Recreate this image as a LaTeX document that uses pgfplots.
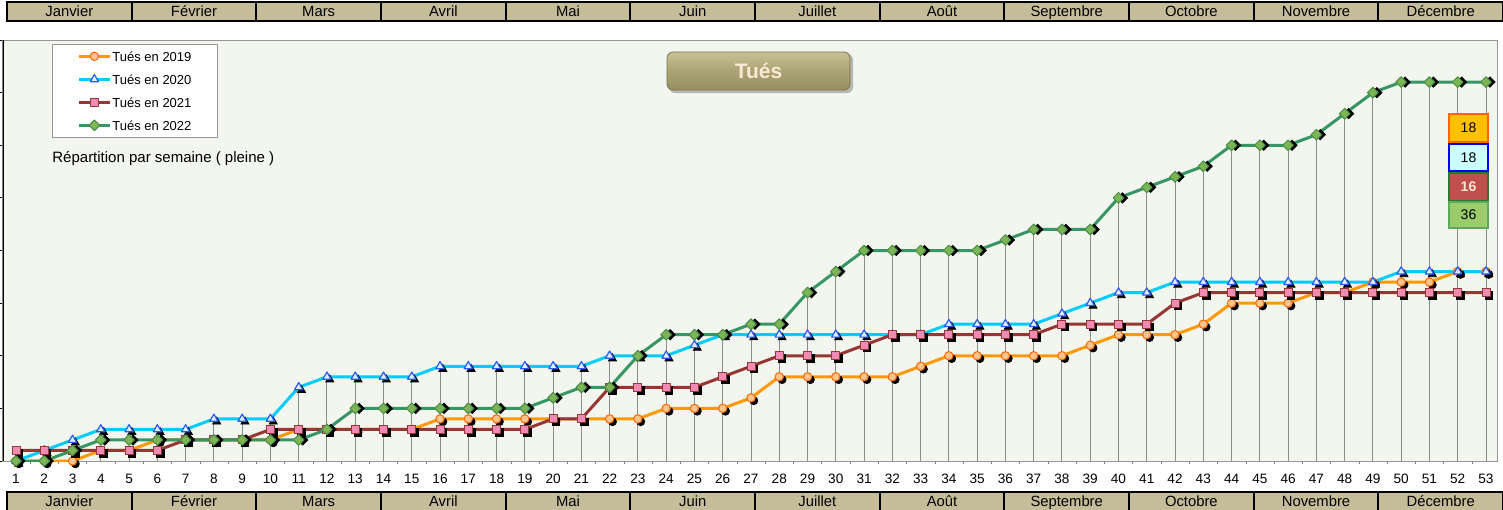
\documentclass[border=0pt]{standalone}
\usepackage{pgfplots}
\pgfplotsset{compat=1.18}
\usepackage{pgfplotstable}
\usepackage{fontspec}
\setmainfont{Liberation Sans}

\definecolor{plotbg}{RGB}{243,246,238}
\definecolor{framegray}{RGB}{150,150,150}
\definecolor{dropgray}{RGB}{140,140,140}
\definecolor{band}{RGB}{197,189,154}
\definecolor{c19}{RGB}{255,153,0}
\definecolor{c19fill}{RGB}{255,196,140}
\definecolor{c19edge}{RGB}{255,102,0}
\definecolor{c20}{RGB}{0,204,255}
\definecolor{c20fill}{RGB}{225,240,255}
\definecolor{c20edge}{RGB}{40,90,255}
\definecolor{c21}{RGB}{150,55,53}
\definecolor{c21fill}{RGB}{240,140,180}
\definecolor{c22}{RGB}{55,150,100}
\definecolor{c22fill}{RGB}{125,180,85}
\definecolor{c22edge}{RGB}{70,140,70}
\definecolor{titletop}{RGB}{200,193,150}
\definecolor{titlemid}{RGB}{170,163,115}
\definecolor{titlebot}{RGB}{150,143,98}
\definecolor{titletext}{RGB}{250,232,212}

% cumul des tués par semaine
\pgfplotstableread{
semaine t2019 t2020 t2021 t2022
1  0  0  1  0
2  0  1  1  0
3  0  2  1  1
4  1  3  1  2
5  1  3  1  2
6  2  3  1  2
7  2  3  2  2
8  2  4  2  2
9  2  4  2  2
10 2  4  3  2
11 3  7  3  2
12 3  8  3  3
13 3  8  3  5
14 3  8  3  5
15 3  8  3  5
16 4  9  3  5
17 4  9  3  5
18 4  9  3  5
19 4  9  3  5
20 4  9  4  6
21 4  9  4  7
22 4  10 7  7
23 4  10 7  10
24 5  10 7  12
25 5  11 7  12
26 5  12 8  12
27 6  12 9  13
28 8  12 10 13
29 8  12 10 16
30 8  12 10 18
31 8  12 11 20
32 8  12 12 20
33 9  12 12 20
34 10 13 12 20
35 10 13 12 20
36 10 13 12 21
37 10 13 12 22
38 10 14 13 22
39 11 15 13 22
40 12 16 13 25
41 12 16 13 26
42 12 17 15 27
43 13 17 16 28
44 15 17 16 30
45 15 17 16 30
46 15 17 16 30
47 16 17 16 31
48 16 17 16 33
49 17 17 16 35
50 17 18 16 36
51 17 18 16 36
52 18 18 16 36
53 18 18 16 36
}\data

\begin{document}
\begin{tikzpicture}
\path[use as bounding box] (0,0) rectangle (751.5pt,-254.5pt);

\begin{axis}[
  at={(1.5pt,-230.5pt)}, anchor=south west,
  scale only axis, width=747pt, height=210.5pt,
  xmin=0.54, xmax=53.39, ymin=0, ymax=40,
  axis background/.style={fill=plotbg},
  axis line style={draw=framegray, line width=0.5pt},
  xtick={1,...,53},
  minor xtick={1.5,2.5,...,52.5},
  ytick={0,5,...,40}, yticklabels={},
  tick align=outside, xtick pos=bottom, ytick pos=left,
  major tick length=1.5pt, minor tick length=1.5pt,
  major x tick style={draw=none},
  minor x tick style={draw=gray},
  major y tick style={black, line width=0.5pt},
  /pgf/number format/assume math mode=true,
  ticklabel style={font=\fontsize{6.8}{8}\selectfont},
  xticklabel style={yshift=-1.5pt},
  legend cell align=left,
  legend image code/.code={\draw[mark repeat=2,mark phase=2,#1] plot coordinates {(0pt,0pt) (7.75pt,0pt) (15.5pt,0pt)};},
  legend style={at={(0.0328,0.9905)}, anchor=north west, fill=white, draw=framegray,
    inner xsep=12.5pt, inner ysep=3.1pt, row sep=5.8pt,
    font=\fontsize{6.5}{7.5}\selectfont,
    nodes={inner sep=0.5pt, text height=4.7pt, text depth=0pt}},
]
% lignes de projection
\addplot[forget plot, ycomb, draw=dropgray, line width=0.5pt] table[x=semaine,y=t2019]{\data};
\addplot[forget plot, ycomb, draw=dropgray, line width=0.5pt] table[x=semaine,y=t2020]{\data};
\addplot[forget plot, ycomb, draw=dropgray, line width=0.5pt] table[x=semaine,y=t2021]{\data};
\addplot[forget plot, ycomb, draw=dropgray, line width=0.5pt] table[x=semaine,y=t2022]{\data};

% 2019
\addplot[forget plot, only marks, mark=*, mark size=2pt, mark options={fill=black, draw=black, xshift=1.4pt, yshift=-1.4pt}] table[x=semaine,y=t2019]{\data};
\addplot[c19, line width=1.5pt, line join=round, mark=*, mark size=2.1pt, mark options={fill=c19fill, draw=c19edge, line width=0.5pt}] table[x=semaine,y=t2019]{\data};
\addlegendentry{Tués en 2019}
% 2020
\addplot[forget plot, only marks, mark=triangle*, mark size=2.3pt, mark options={fill=black, draw=black, xshift=1.4pt, yshift=-1.4pt}] table[x=semaine,y=t2020]{\data};
\addplot[c20, line width=1.5pt, line join=round, mark=triangle*, mark size=2.4pt, mark options={fill=c20fill, draw=c20edge, line width=0.6pt}] table[x=semaine,y=t2020]{\data};
\addlegendentry{Tués en 2020}
% 2021
\addplot[forget plot, only marks, mark=square*, mark size=1.9pt, mark options={fill=black, draw=black, xshift=1.4pt, yshift=-1.4pt}] table[x=semaine,y=t2021]{\data};
\addplot[c21, line width=1.5pt, line join=round, mark=square*, mark size=2pt, mark options={fill=c21fill, draw=c21, line width=0.5pt}] table[x=semaine,y=t2021]{\data};
\addlegendentry{Tués en 2021}
% 2022
\addplot[forget plot, only marks, mark=square*, mark size=1.8pt, mark options={rotate=45, fill=black, draw=black, xshift=1.4pt, yshift=-1.4pt}] table[x=semaine,y=t2022]{\data};
\addplot[c22, line width=1.5pt, line join=round, mark=square*, mark size=1.9pt, mark options={rotate=45, fill=c22fill, draw=c22edge, line width=0.5pt}] table[x=semaine,y=t2022]{\data};
\addlegendentry{Tués en 2022}

\draw[black, line width=0.8pt] (rel axis cs:0,0) -- (rel axis cs:0,1);
\end{axis}

% décor, coordonnées en pixels de l'image
\begin{scope}[x=0.5pt, y=-0.5pt]
  \foreach \m [count=\i from 0] in {Janvier,Février,Mars,Avril,Mai,Juin,Juillet,Août,Septembre,Octobre,Novembre,Décembre}{
    \pgfmathsetmacro{\xa}{7+124.67*\i}
    \pgfmathsetmacro{\xb}{\xa+124.67}
    \draw[fill=band, line width=1pt] (\xa,2) rectangle (\xb,21);
    \node[font=\fontsize{7.4}{9}\selectfont, text height=5.4pt, text depth=0pt, inner sep=0pt] at ({(\xa+\xb)/2},11.5) {\m};
    \draw[fill=band, line width=1pt] (\xa,492) rectangle (\xb,512);
    \node[font=\fontsize{7.4}{9}\selectfont, text height=5.4pt, text depth=0pt, inner sep=0pt] at ({(\xa+\xb)/2},501.5) {\m};
  }

  \node[anchor=west, font=\fontsize{7.5}{9}\selectfont, inner sep=0pt] at (52,159) {Répartition par semaine ( pleine )};

  % bouton du titre
  \fill[black, opacity=0.25, rounded corners=3pt] (669,54) rectangle (853,93);
  \shade[rounded corners=3pt, top color=titletop, bottom color=titlebot, middle color=titlemid, draw=titlebot!80!black, line width=0.4pt] (667,52) rectangle (850,90);
  \node[font=\bfseries\fontsize{10.5}{12}\selectfont, text=titletext] at (758.5,71) {Tués};

  % totaux
  \draw[fill={rgb,255:red,255;green,192;blue,0}, draw={rgb,255:red,255;green,102;blue,0}, line width=0.6pt] (1449,114) rectangle (1488,142);
  \node[font=\fontsize{7}{8}\selectfont] at (1468.5,128) {18};
  \draw[fill={rgb,255:red,204;green,255;blue,255}, draw={rgb,255:red,0;green,0;blue,255}, line width=0.8pt] (1449,144) rectangle (1488,171);
  \node[font=\fontsize{7}{8}\selectfont] at (1468.5,157.5) {18};
  \draw[fill={rgb,255:red,192;green,80;blue,77}, draw={rgb,255:red,40;green,120;blue,50}, line width=0.8pt] (1449,173) rectangle (1488,201);
  \node[font=\bfseries\fontsize{7}{8}\selectfont, text=titletext] at (1468.5,187) {16};
  \draw[fill={rgb,255:red,155;green,203;blue,107}, draw={rgb,255:red,90;green,170;blue,90}, line width=0.6pt] (1449,202) rectangle (1488,228);
  \node[font=\fontsize{7}{8}\selectfont] at (1468.5,215) {36};
\end{scope}
\end{tikzpicture}
\end{document}
